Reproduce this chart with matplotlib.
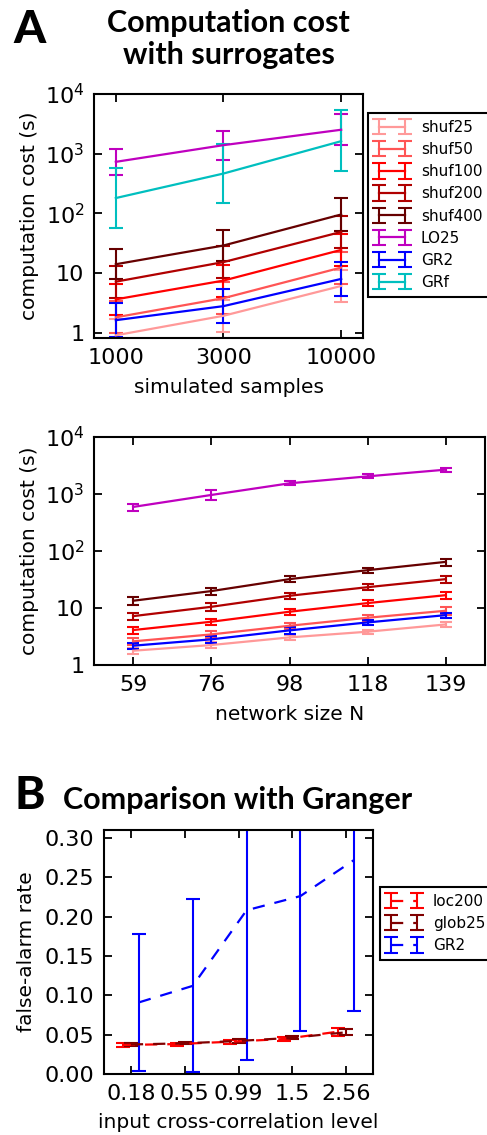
import numpy as np
import matplotlib
matplotlib.use('Agg')
import matplotlib.pyplot as plt
from matplotlib.ticker import NullLocator, FixedLocator

# ---- panel A (top): cost vs simulated samples ----
samples = [1000, 3000, 10000]
series_names = ['shuf25', 'shuf50', 'shuf100', 'shuf200', 'shuf400', 'LO25', 'GR2', 'GRf']
series_colors = ['#ff9999', '#ff5555', '#ff0000', '#b00000', '#660000', '#bf00bf', '#0000ff', '#00bfbf']

cost_mean = {
    'shuf25': [0.91, 1.93, 6.1],
    'shuf50': [1.82, 3.8, 12.4],
    'shuf100': [3.64, 7.5, 24.5],
    'shuf200': [7.2, 15.3, 49],
    'shuf400': [14.1, 29.0, 96],
    'LO25': [731, 1390, 2520],
    'GR2': [1.63, 2.8, 8.0],
    'GRf': [181, 465, 1622],
}
cost_low = {
    'shuf25': [0.49, 1.05, 3.3],
    'shuf50': [0.98, 2.05, 6.7],
    'shuf100': [1.97, 4.05, 13.2],
    'shuf200': [3.9, 8.3, 26.5],
    'shuf400': [7.9, 15.8, 51],
    'LO25': [442, 800, 1374],
    'GR2': [0.85, 1.47, 4.2],
    'GRf': [58, 150, 508],
}
cost_high = {
    'shuf25': [1.7, 3.6, 11.3],
    'shuf50': [3.4, 7.0, 23],
    'shuf100': [6.7, 13.9, 45],
    'shuf200': [13.3, 28.3, 91],
    'shuf400': [25.3, 53, 181],
    'LO25': [1222, 2390, 4560],
    'GR2': [3.12, 5.4, 15.4],
    'GRf': [570, 1430, 5320],
}

# ---- panel A (bottom): cost vs network size ----
net_sizes = ['59', '76', '98', '118', '139']
net_names = ['shuf25', 'shuf50', 'shuf100', 'shuf200', 'shuf400', 'LO25', 'GR2']
net_mean = {
    'shuf25': [1.78, 2.24, 3.05, 3.84, 5.15],
    'shuf50': [2.6, 3.44, 4.88, 6.75, 8.95],
    'shuf100': [4.1, 5.74, 8.6, 12.2, 16.8],
    'shuf200': [7.2, 10.5, 16.4, 23.2, 32.1],
    'shuf400': [13.4, 19.8, 32.1, 46.1, 64.5],
    'LO25': [593, 962, 1540, 2040, 2675],
    'GR2': [2.18, 2.82, 4.05, 5.59, 7.5],
}
net_err = {
    'shuf25': [0.2, 0.25, 0.3, 0.35, 0.5],
    'shuf50': [0.35, 0.45, 0.6, 0.9, 1.3],
    'shuf100': [0.6, 0.8, 1.0, 1.4, 2.4],
    'shuf200': [1.1, 1.5, 2.2, 2.8, 4.5],
    'shuf400': [2.0, 2.8, 3.8, 5.0, 9.0],
    'LO25': [85, 190, 130, 160, 200],
    'GR2': [0.25, 0.35, 0.5, 0.5, 0.8],
}

# ---- panel B: false-alarm rate ----
xcorr_levels = ['0.18', '0.55', '0.99', '1.5', '2.56']
b_names = ['loc200', 'glob25', 'GR2']
b_colors = ['#ff0000', '#800000', '#0000ff']
b_offsets = [-0.15, 0.0, 0.15]
b_mean = {
    'loc200': [0.0369, 0.038, 0.041, 0.0445, 0.0538],
    'glob25': [0.0375, 0.039, 0.042, 0.046, 0.053],
    'GR2': [0.091, 0.112, 0.208, 0.226, 0.272],
}
b_err = {
    'loc200': [0.002, 0.002, 0.0025, 0.002, 0.005],
    'glob25': [0.0015, 0.0015, 0.002, 0.002, 0.004],
    'GR2': [0.087, 0.110, 0.190, 0.171, 0.192],
}

W, H = 487, 1135
TICK_FS = 16
LABEL_FS = 14.5
LEG_FS = 11
plt.rcParams['font.family'] = 'DejaVu Sans'
plt.rcParams['mathtext.fontset'] = 'dejavusans'
fig = plt.figure(figsize=(W / 100, H / 100), dpi=100)


def axes_px(left, top, right, bottom):
    return fig.add_axes([left / W, 1 - bottom / H, (right - left) / W, (bottom - top) / H])


def style_axes(ax):
    for s in ax.spines.values():
        s.set_linewidth(1.5)
    ax.tick_params(which='major', direction='in', length=6, width=1.3,
                   top=True, right=True, labelsize=TICK_FS, pad=7)
    ax.tick_params(which='minor', length=0)


def legend_at(ax, left, top):
    leg = ax.legend(loc='upper left', bbox_to_anchor=(left / W, 1 - top / H),
                    bbox_transform=fig.transFigure, fontsize=LEG_FS, fancybox=False,
                    edgecolor='black', framealpha=1, borderaxespad=0, numpoints=2,
                    handlelength=2.3, handletextpad=0.7, labelspacing=0.47, borderpad=0.45)
    leg.get_frame().set_linewidth(1.5)
    return leg


log_labels = ['1', '10', r'$10^2$', r'$10^3$', r'$10^4$']
log_ticks = [1, 10, 100, 1000, 10000]

# panel A top
ax1 = axes_px(94, 94, 363, 338)
for name, col in zip(series_names, series_colors):
    m = np.array(cost_mean[name])
    lo = m - np.array(cost_low[name])
    hi = np.array(cost_high[name]) - m
    ax1.errorbar(samples, m, yerr=[lo, hi], color=col, lw=1.6, capsize=5,
                 capthick=1.5, elinewidth=1.5, label=name)
ax1.set_xscale('log')
ax1.set_yscale('log')
ax1.set_xlim(800, 12500)
ax1.set_ylim(0.82, 1e4)
ax1.xaxis.set_major_locator(FixedLocator(samples))
ax1.set_xticklabels([str(s) for s in samples])
ax1.xaxis.set_minor_locator(NullLocator())
ax1.yaxis.set_major_locator(FixedLocator(log_ticks))
ax1.set_yticklabels(log_labels)
ax1.yaxis.set_minor_locator(NullLocator())
style_axes(ax1)
ax1.set_xlabel('simulated samples', fontsize=LABEL_FS, labelpad=7.5)
ax1.set_ylabel('computation cost (s)', fontsize=LABEL_FS, labelpad=4)
legend_at(ax1, 368, 113)

# panel A bottom
ax2 = axes_px(94, 437, 485, 665)
xpos = np.arange(len(net_sizes))
for name in net_names:
    col = series_colors[series_names.index(name)]
    ax2.errorbar(xpos, net_mean[name], yerr=net_err[name], color=col, lw=1.6,
                 capsize=4.5, capthick=1.5, elinewidth=1.5)
ax2.set_yscale('log')
ax2.set_xlim(-0.5, 4.5)
ax2.set_ylim(1, 1e4)
ax2.set_xticks(xpos)
ax2.set_xticklabels(net_sizes)
ax2.yaxis.set_major_locator(FixedLocator(log_ticks))
ax2.set_yticklabels(log_labels)
ax2.yaxis.set_minor_locator(NullLocator())
style_axes(ax2)
ax2.set_xlabel('network size N', fontsize=LABEL_FS, labelpad=7.5)
ax2.set_ylabel('computation cost (s)', fontsize=LABEL_FS, labelpad=4)

# panel B
ax3 = axes_px(104, 830, 373, 1074)
xb = np.arange(len(xcorr_levels))
for name, col, off in zip(b_names, b_colors, b_offsets):
    ax3.errorbar(xb + off, b_mean[name], yerr=b_err[name], color=col, lw=1.6,
                 ls=(0, (5.5, 4.5)), capsize=5, capthick=1.5, elinewidth=1.5, label=name)
ax3.set_xlim(-0.5, 4.5)
ax3.set_ylim(0, 0.31)
ax3.set_xticks(xb)
ax3.set_xticklabels(xcorr_levels)
yb = [0.0, 0.05, 0.10, 0.15, 0.20, 0.25, 0.30]
ax3.set_yticks(yb)
ax3.set_yticklabels(['%.2f' % v for v in yb])
style_axes(ax3)
ax3.set_xlabel('input cross-correlation level', fontsize=LABEL_FS, labelpad=7)
ax3.set_ylabel('false-alarm rate', fontsize=LABEL_FS, labelpad=6)
legend_at(ax3, 380, 887)

# panel letters and titles
fig.text(13 / W, 1 - 43 / H, 'A', fontsize=33, weight='black', family='Lato', va='baseline')
fig.text(228.5 / W, 1 - 32 / H, 'Computation cost', fontsize=22, weight='bold',
         family='Lato', ha='center', va='baseline')
fig.text(228.5 / W, 1 - 64 / H, 'with surrogates', fontsize=22, weight='bold',
         family='Lato', ha='center', va='baseline')
fig.text(15 / W, 1 - 809 / H, 'B', fontsize=33, weight='black', family='Lato', va='baseline')
fig.text(63 / W, 1 - 809 / H, 'Comparison with Granger', fontsize=22, weight='bold',
         family='Lato', ha='left', va='baseline')

fig.savefig('out.png', dpi=100)
